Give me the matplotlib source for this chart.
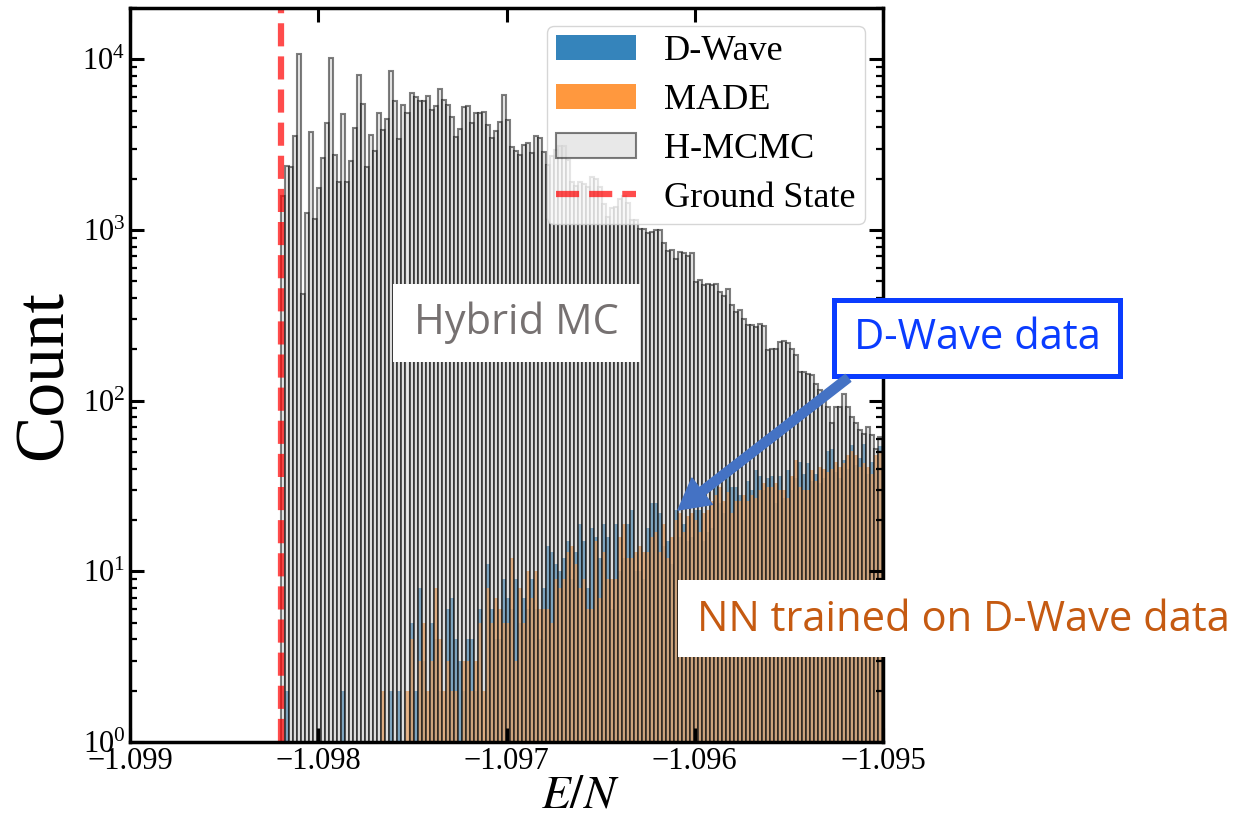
import numpy as np
import matplotlib.pyplot as plt
from matplotlib.patches import Rectangle, FancyArrowPatch
from matplotlib.ticker import NullLocator, LogLocator

plt.rcParams['font.family'] = ['Liberation Serif', 'DejaVu Serif']
plt.rcParams['mathtext.fontset'] = 'stix'

## Energia del estado fundamental y rango de bins
e_ground = -1.098196
e_last   = -1.095005
nbins    = 150

## Cuentas por bin
hmcmc = [1590, 2370, 2330, 3550, 10700, 420, 1260, 3760, 1160, 1760,
         2640, 4210, 10200, 2750, 1910, 4770, 1910, 2530, 3980, 8140,
         5480, 2350, 3600, 2890, 4830, 3880, 4460, 8540, 5670, 3430,
         5400, 4830, 6310, 6020, 5670, 5670, 6080, 5080, 5320, 6700,
         5790, 5400, 4620, 3510, 3900, 5260, 5320, 4230, 4830, 4860,
         4920, 4120, 3440, 3800, 4300, 6200, 4400, 3050, 2910, 2750,
         3140, 3240, 2810, 3550, 3480, 2870, 2400, 2700, 2950, 3110,
         3110, 2560, 1910, 1810, 1910, 1850, 1790, 2040, 1990, 1780,
         1430, 1200, 1340, 1370, 1530, 1590, 1440, 1140, 1140, 1020,
         1020, 960, 980, 1000, 1000, 840, 755, 760, 680, 740,
         730, 700, 730, 498, 509, 476, 480, 476, 482, 435,
         410, 449, 363, 332, 340, 303, 277, 277, 271, 280,
         275, 198, 200, 200, 221, 224, 217, 202, 185, 148,
         148, 144, 141, 126, 115, 100, 92, 74, 92, 92,
         110, 92, 80, 74, 67, 64, 70, 63, 52, 61]

dwave = [0, 2, 0, 0, 0, 0, 0, 0, 0, 0,
         0, 0, 0, 0, 0, 2, 0, 0, 0, 0,
         0, 0, 0, 0, 0, 0, 0, 2, 0, 2,
         0, 0, 5, 2, 8, 3, 1, 5, 4, 2,
         1, 6, 7, 4, 3, 2, 4, 4, 2, 6,
         1, 11, 6, 4, 4, 9, 7, 6, 9, 5,
         7, 6, 9, 6, 4, 8, 14, 13, 11, 10,
         12, 15, 9, 13, 19, 15, 8, 18, 16, 12,
         19, 16, 6, 19, 10, 12, 19, 23, 10, 10,
         9, 18, 25, 25, 22, 14, 15, 11, 23, 16,
         19, 15, 16, 23, 23, 15, 17, 18, 31, 25,
         22, 37, 31, 31, 28, 20, 34, 30, 39, 36,
         30, 35, 36, 25, 36, 27, 39, 30, 35, 44,
         37, 43, 34, 37, 33, 35, 51, 52, 38, 35,
         45, 40, 55, 42, 46, 56, 37, 44, 40, 54]

made = [0, 0, 0, 0, 0, 0, 0, 0, 0, 0,
        0, 0, 0, 0, 0, 0, 0, 0, 0, 0,
        0, 0, 0, 0, 0, 2, 0, 0, 0, 0,
        0, 2, 4, 0, 3, 5, 2, 3, 8, 4,
        2, 3, 2, 2, 0, 3, 3, 2, 3, 5,
        2, 8, 5, 7, 6, 5, 5, 12, 3, 8,
        5, 10, 7, 10, 6, 6, 6, 5, 9, 8,
        9, 13, 14, 11, 8, 9, 6, 6, 15, 7,
        13, 9, 9, 9, 16, 19, 12, 12, 13, 14,
        13, 13, 16, 17, 13, 19, 12, 16, 20, 22,
        17, 21, 22, 20, 17, 22, 23, 26, 28, 31,
        26, 29, 22, 26, 26, 28, 26, 28, 27, 30,
        33, 31, 31, 33, 30, 30, 27, 36, 45, 31,
        30, 30, 39, 34, 41, 40, 38, 40, 44, 41,
        43, 48, 51, 48, 41, 43, 41, 37, 48, 50]

edges   = np.linspace(e_ground, e_last, nbins + 1)
centers = 0.5 * (edges[:-1] + edges[1:])

W, H = 1236, 825
fig = plt.figure(figsize=(W / 100, H / 100), dpi=100)
ax  = fig.add_axes([130 / W, 83 / H, 753 / W, 734 / H])

## Histogramas
_, _, b1 = ax.hist(centers, bins=edges, weights=dwave, color='C0', alpha=0.9,
                   label='D-Wave', log=True)
_, _, b2 = ax.hist(centers, bins=edges, weights=made, color='C1', alpha=0.8,
                   label='MADE', log=True)
_, _, b3 = ax.hist(centers, bins=edges, weights=hmcmc, facecolor='lightgray',
                   edgecolor='k', linewidth=1.5, alpha=0.5, label='H-MCMC', log=True)
gs = ax.axvline(e_ground, color='r', alpha=0.7, lw=4.5, ls='--', label='Ground State')

ax.set_xlim(-1.099, -1.095)
ax.set_ylim(1, 2e4)
ax.set_xticks([-1.099, -1.098, -1.097, -1.096, -1.095])
ax.xaxis.set_minor_locator(NullLocator())
ax.yaxis.set_minor_locator(LogLocator(base=10, subs=np.arange(2, 10), numticks=20))
ax.tick_params(which='both', direction='in', top=True, right=True, labelsize=22)
ax.tick_params(which='major', length=10, width=2.2)
ax.tick_params(which='minor', length=5, width=1.6)
for sp in ax.spines.values():
    sp.set_linewidth(2.5)

ax.set_ylabel('Count', fontsize=50, labelpad=4)
ax.set_xlabel('$E/N$', fontsize=34, labelpad=0)
ax.xaxis.set_label_coords(0.598, -0.045)

ax.legend([b1[0], b2[0], b3[0], gs], ['D-Wave', 'MADE', 'H-MCMC', 'Ground State'],
          loc='upper right', fontsize=26, labelspacing=0.43, handlelength=2.2,
          handletextpad=0.8, borderpad=0.25)

## Anotaciones superpuestas (coordenadas en pixeles de la figura)
def fx(x):
    return x / W

def fy(y):
    return 1 - y / H

def box(x0, y0, x1, y1, **kw):
    r = Rectangle((fx(x0), fy(y1)), fx(x1) - fx(x0), fy(y0) - fy(y1),
                  transform=fig.transFigure, **kw)
    fig.add_artist(r)

sans = ['Open Sans', 'DejaVu Sans']

box(393, 284, 640, 362, facecolor='white', edgecolor='none')
fig.text(fx(516), fy(323), 'Hybrid MC', color='#767171', fontsize=30,
         family=sans, ha='center', va='center')

box(834, 300, 1120, 376, facecolor='white', edgecolor='#0A3CFF', linewidth=3.6)
fig.text(fx(977), fy(338), 'D-Wave data', color='#0A3CFF', fontsize=30,
         family=sans, ha='center', va='center')

box(678, 580, 1236, 657, facecolor='white', edgecolor='none')
fig.text(fx(697), fy(620), 'NN trained on D-Wave data', color='#C55A11', fontsize=30,
         family=sans, ha='left', va='center')

arrow = FancyArrowPatch((fx(848), fy(378)), (fx(678), fy(510)),
                        transform=fig.transFigure, mutation_scale=1,
                        arrowstyle='simple,head_length=22,head_width=24,tail_width=6.5',
                        color='#4472C4', shrinkA=0, shrinkB=0)
fig.add_artist(arrow)

fig.savefig('out.png', dpi=100)
